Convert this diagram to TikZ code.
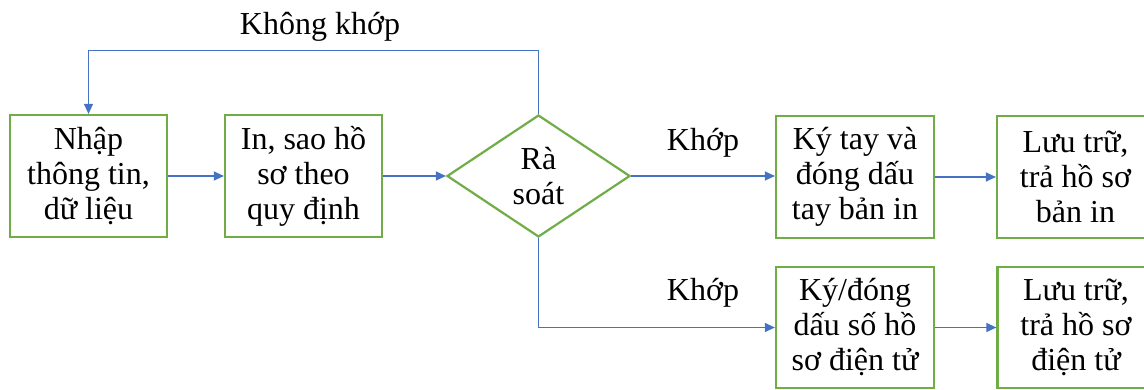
\documentclass[tikz,border=0pt]{standalone}
\usepackage{fontspec}
\setmainfont{Liberation Serif}
\usetikzlibrary{shapes.geometric,arrows.meta}
\definecolor{boxgreen}{HTML}{70AD47}
\definecolor{lineblue}{HTML}{4472C4}
\tikzset{
  stepbox/.style={draw=boxgreen,line width=2.2pt,minimum width=157pt,minimum height=122pt,
    inner sep=0pt,align=center,font=\fontsize{32}{35}\selectfont},
  checkbox/.style={draw=boxgreen,line width=2.2pt,diamond,aspect=1.5,minimum width=183pt,
    minimum height=122pt,inner sep=0pt,align=center,font=\fontsize{32}{35}\selectfont},
  flow/.style={draw=lineblue,line width=1.2pt,-{Triangle[length=10pt,width=9pt]}},
  lbl/.style={font=\fontsize{32}{35}\selectfont}
}
\begin{document}
\begin{tikzpicture}[x=1pt,y=-1pt]
\useasboundingbox (0,0) rectangle (1144,390);
% top row
\node[stepbox] (nhap) at (88.5,176) {Nhập\\thông tin,\\dữ liệu};
\node[stepbox] (inSao) at (303.5,176) {In, sao hồ\\sơ theo\\quy định};
\node[checkbox] (raSoat) at (538.5,176) {Rà\\soát};
\node[stepbox,minimum width=158pt] (kyTay) at (855,177) {Ký tay và\\đóng dấu\\tay bản in};
\node[stepbox] (luuIn) at (1075.5,177) {Lưu trữ,\\trả hồ sơ\\bản in};
% bottom row
\node[stepbox,minimum width=158pt,minimum height=121pt] (kySo) at (855,327.5) {Ký/đóng\\dấu số hồ\\sơ điện tử};
\node[stepbox,minimum height=121pt] (luuSo) at (1076,327.5) {Lưu trữ,\\trả hồ sơ\\điện tử};
% labels
\node[lbl] (khongKhop) at (320,27) {Không khớp};
\node[lbl] (khop1) at (703,143) {Khớp};
\node[lbl] (khop2) at (703,293) {Khớp};
% connectors
\draw[flow] (nhap) -- (inSao);
\draw[flow] (inSao) -- (raSoat);
\draw[flow] (raSoat.east) -- (raSoat.east -| kyTay.west);
\draw[flow] (kyTay) -- (luuIn);
\draw[flow] (raSoat.south) |- (kySo.west);
\draw[flow] (kySo) -- (luuSo);
\draw[flow] (raSoat.north) -- ++(0,-63) -| (nhap.north);
\end{tikzpicture}
\end{document}
